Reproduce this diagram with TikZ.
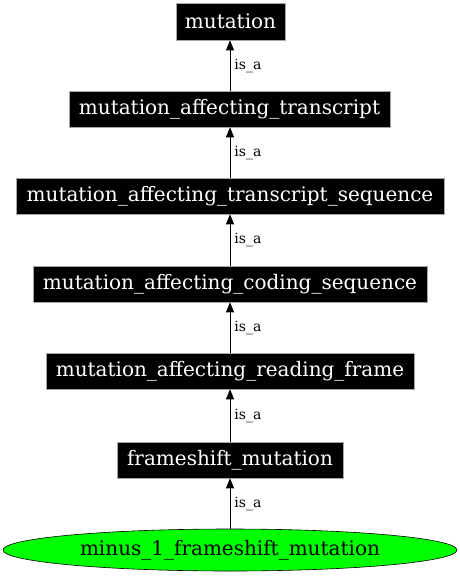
\documentclass[tikz,border=0pt]{standalone}
\usepackage{fontspec}
\setmainfont{DejaVu Serif}
\usetikzlibrary{arrows.meta,shapes.geometric}
\tikzset{
  termbox/.style={draw=gray!70, line width=0.6pt, fill=black, text=white, inner sep=0pt,
    minimum height=36pt, font=\fontsize{20}{24}\selectfont},
  leafnode/.style={ellipse, draw=black, line width=0.6pt, fill=green, text=black, inner sep=0pt,
    minimum width=454pt, minimum height=42pt, font=\fontsize{20}{24}\selectfont},
  isa/.style={draw=black, line width=0.7pt, -{Triangle[length=10pt,width=8pt]}},
  isalabel/.style={font=\fontsize{14}{16}\selectfont, anchor=west, inner sep=0pt, xshift=4pt}
}
\begin{document}
\begin{tikzpicture}[x=1pt,y=-1pt]
\useasboundingbox (0,0) rectangle (460,576);
\fill[white] (0,0) rectangle (460,576);
\node[termbox, minimum width=109pt, minimum height=37pt] (n1) at (230.5,21.5) {mutation};
\node[termbox, minimum width=321pt] (n2) at (229.5,109) {mutation\_affecting\_transcript};
\node[termbox, minimum width=428pt] (n3) at (230,196) {mutation\_affecting\_transcript\_sequence};
\node[termbox, minimum width=394pt] (n4) at (230,284) {mutation\_affecting\_coding\_sequence};
\node[termbox, minimum width=368pt] (n5) at (230,371) {mutation\_affecting\_reading\_frame};
\node[termbox, minimum width=226pt] (n6) at (230,460) {frameshift\_mutation};
\node[leafnode] (n7) at (230,550) {minus\_1\_frameshift\_mutation};
\draw[isa] (n2.north -| 230,0) -- node[isalabel]{is\_a} (n1.south -| 230,0);
\draw[isa] (n3.north -| 230,0) -- node[isalabel]{is\_a} (n2.south -| 230,0);
\draw[isa] (n4.north -| 230,0) -- node[isalabel]{is\_a} (n3.south -| 230,0);
\draw[isa] (n5.north -| 230,0) -- node[isalabel]{is\_a} (n4.south -| 230,0);
\draw[isa] (n6.north -| 230,0) -- node[isalabel]{is\_a} (n5.south -| 230,0);
\draw[isa] (n7.north) -- node[isalabel]{is\_a} (n6.south);
\end{tikzpicture}
\end{document}
